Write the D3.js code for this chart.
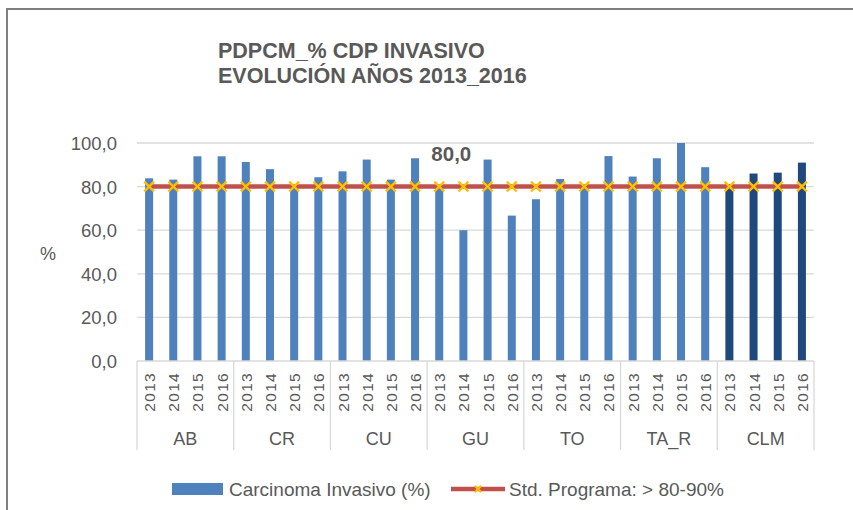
<!DOCTYPE html>
<html>
<head>
<meta charset="utf-8">
<script src="https://cdn.jsdelivr.net/npm/d3@7"></script>
<style>
  body { margin: 0; background: #fff; }
  text { font-family: "Liberation Sans", Arial, sans-serif; fill: #595959; }
</style>
</head>
<body>
<div id="chart"></div>
<script>
const groups = ["AB", "CR", "CU", "GU", "TO", "TA_R", "CLM"];
const years = ["2013", "2014", "2015", "2016"];
const invasivo = [
  83.8, 83.2, 93.9, 93.9,
  91.3, 88.0, 80.0, 84.3,
  87.0, 92.4, 83.2, 93.0,
  80.0, 60.0, 92.4, 66.7,
  74.2, 83.5, 80.0, 94.0,
  84.6, 93.0, 100.0, 88.9,
  81.2, 86.0, 86.4, 91.0
];
const standard = [
  80, 80, 80, 80, 80, 80, 80, 80, 80, 80, 80, 80, 80, 80,
  80, 80, 80, 80, 80, 80, 80, 80, 80, 80, 80, 80, 80, 80
];
const yTicks = [0, 20, 40, 60, 80, 100];

const W = 853, H = 510;
const plot = { left: 137, right: 814, top: 143, bottom: 361 };

const rows = [];
groups.forEach((g, gi) => years.forEach((y, yi) => {
  const i = gi * years.length + yi;
  rows.push({ key: g + "-" + y, group: g, year: y, value: invasivo[i], std: standard[i] });
}));

const svg = d3.select("#chart").append("svg")
  .attr("width", W).attr("height", H);

// chart frame
svg.append("rect")
  .attr("x", 7).attr("y", 9)
  .attr("width", W + 20).attr("height", H + 20)
  .attr("fill", "none").attr("stroke", "#7f7f7f").attr("stroke-width", 2);

// title
const title = svg.append("text")
  .attr("x", 218).attr("y", 58)
  .style("font-size", "21.5px").style("font-weight", "bold");
title.append("tspan").attr("x", 218).text("PDPCM_% CDP INVASIVO");
title.append("tspan").attr("x", 218).attr("dy", 25).text("EVOLUCIÓN AÑOS 2013_2016");

const x = d3.scaleBand().domain(rows.map(d => d.key)).range([plot.left, plot.right]);
const y = d3.scaleLinear().domain([0, 100]).range([plot.bottom, plot.top]);

// gridlines
svg.append("g").selectAll("line")
  .data(yTicks.filter(t => t > 0))
  .join("line")
  .attr("x1", plot.left).attr("x2", plot.right)
  .attr("y1", d => y(d)).attr("y2", d => y(d))
  .attr("stroke", "#d9d9d9").attr("stroke-width", 1.3);

// y axis labels
const yAxis = svg.append("g")
  .attr("transform", `translate(${plot.left - 20},0)`)
  .call(d3.axisLeft(y).tickValues(yTicks).tickSize(0)
    .tickFormat(d => d3.format(".1f")(d).replace(".", ",")));
yAxis.select(".domain").remove();
yAxis.selectAll("text")
  .attr("x", 0).attr("dy", "0.35em")
  .style("font-size", "18.5px").style("font-family", "Liberation Sans, Arial, sans-serif")
  .attr("fill", "#595959");

svg.append("text")
  .attr("x", 48).attr("y", 260)
  .attr("text-anchor", "middle")
  .style("font-size", "18px")
  .text("%");

// bars
const barW = 8;
svg.append("g").selectAll("rect")
  .data(rows)
  .join("rect")
  .attr("x", d => x(d.key) + x.bandwidth() / 2 - barW / 2)
  .attr("y", d => y(d.value))
  .attr("width", barW)
  .attr("height", d => y(0) - y(d.value))
  .attr("fill", d => d.group === "CLM" ? "#1f497d" : "#4f81bd");

// category axis
svg.append("line")
  .attr("x1", plot.left).attr("x2", plot.right)
  .attr("y1", plot.bottom).attr("y2", plot.bottom)
  .attr("stroke", "#d9d9d9").attr("stroke-width", 1.3);

const groupEdges = groups.map(g => x(g + "-" + years[0])).concat([plot.right]);
svg.append("g").selectAll("line")
  .data(groupEdges)
  .join("line")
  .attr("x1", d => d).attr("x2", d => d)
  .attr("y1", plot.bottom).attr("y2", 450)
  .attr("stroke", "#d9d9d9").attr("stroke-width", 1.3);

svg.append("g").selectAll("text")
  .data(rows)
  .join("text")
  .attr("transform", d => `translate(${x(d.key) + x.bandwidth() / 2 + 6},${372}) rotate(-90)`)
  .attr("text-anchor", "end")
  .style("font-size", "15.5px")
  .style("letter-spacing", "1.3px")
  .text(d => d.year);

svg.append("g").selectAll("text")
  .data(groups)
  .join("text")
  .attr("x", g => x(g + "-" + years[0]) + x.bandwidth() * years.length / 2)
  .attr("y", 445)
  .attr("text-anchor", "middle")
  .style("font-size", "18px")
  .text(g => g);

// standard line
const line = d3.line()
  .x(d => x(d.key) + x.bandwidth() / 2)
  .y(d => y(d.std));
svg.append("path")
  .datum(rows)
  .attr("d", line)
  .attr("fill", "none")
  .attr("stroke", "#c0504d")
  .attr("stroke-width", 4.5);

const cross = d3.symbol().type(d3.symbolX).size(64);
svg.append("g").selectAll("path")
  .data(rows)
  .join("path")
  .attr("transform", d => `translate(${x(d.key) + x.bandwidth() / 2},${y(d.std)})`)
  .attr("d", cross)
  .attr("fill", "none")
  .attr("stroke", "#ffc000")
  .attr("stroke-width", 2.4);

// data label
const gu13 = rows[12], gu14 = rows[13];
svg.append("text")
  .attr("x", (x(gu13.key) + x(gu14.key)) / 2 + x.bandwidth() / 2)
  .attr("y", 161)
  .attr("text-anchor", "middle")
  .style("font-size", "20.5px").style("font-weight", "bold")
  .text(d3.format(".1f")(gu13.std).replace(".", ","));

// legend
const lg = svg.append("g");
lg.append("rect")
  .attr("x", 172).attr("y", 483).attr("width", 51).attr("height", 12)
  .attr("fill", "#4f81bd");
lg.append("text")
  .attr("x", 229).attr("y", 496)
  .style("font-size", "19px")
  .text("Carcinoma Invasivo (%)");
lg.append("line")
  .attr("x1", 451).attr("x2", 505).attr("y1", 489).attr("y2", 489)
  .attr("stroke", "#c0504d").attr("stroke-width", 4.5);
lg.append("path")
  .attr("transform", "translate(478,489)")
  .attr("d", d3.symbol().type(d3.symbolX).size(30))
  .attr("fill", "none").attr("stroke", "#ffc000").attr("stroke-width", 2);
lg.append("text")
  .attr("x", 509).attr("y", 496)
  .style("font-size", "19px")
  .text("Std. Programa: > 80-90%");
</script>
</body>
</html>
